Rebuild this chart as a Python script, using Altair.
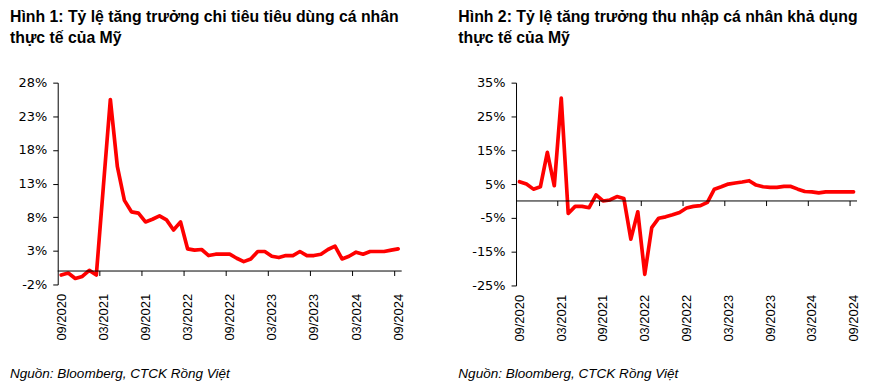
import altair as alt
import pandas as pd

# ---- data ----
months = [
    "09/2020", "10/2020", "11/2020", "12/2020", "01/2021", "02/2021", "03/2021",
    "04/2021", "05/2021", "06/2021", "07/2021", "08/2021", "09/2021", "10/2021",
    "11/2021", "12/2021", "01/2022", "02/2022", "03/2022", "04/2022", "05/2022",
    "06/2022", "07/2022", "08/2022", "09/2022", "10/2022", "11/2022", "12/2022",
    "01/2023", "02/2023", "03/2023", "04/2023", "05/2023", "06/2023", "07/2023",
    "08/2023", "09/2023", "10/2023", "11/2023", "12/2023", "01/2024", "02/2024",
    "03/2024", "04/2024", "05/2024", "06/2024", "07/2024", "08/2024", "09/2024",
]

# Hình 1: real personal consumption expenditure growth (%)
pce_growth = [
    -0.6, -0.3, -1.1, -0.8, 0.1, -0.6, 12.5, 25.5, 15.5, 10.5,
    8.8, 8.6, 7.3, 7.7, 8.2, 7.6, 6.1, 7.3, 3.3, 3.1,
    3.2, 2.3, 2.5, 2.5, 2.5, 1.9, 1.4, 1.8, 2.9, 2.9,
    2.2, 2.0, 2.3, 2.3, 2.9, 2.3, 2.3, 2.5, 3.2, 3.7,
    1.8, 2.2, 2.8, 2.5, 2.9, 2.9, 2.9, 3.1, 3.3,
]

# Hình 2: real disposable personal income growth (%)
income_growth = [
    5.7, 5.0, 3.5, 4.2, 14.4, 4.5, 30.4, -3.7, -1.6, -1.6,
    -2.0, 1.8, 0.0, 0.3, 1.3, 0.7, -11.3, -3.2, -21.7, -7.9,
    -5.1, -4.7, -4.1, -3.4, -2.1, -1.6, -1.4, -0.4, 3.5, 4.2,
    5.0, 5.3, 5.6, 6.0, 4.7, 4.2, 4.0, 4.0, 4.3, 4.3,
    3.5, 2.8, 2.7, 2.4, 2.7, 2.7, 2.7, 2.7, 2.7,
]

title_left = ["Hình 1: Tỷ lệ tăng trưởng chi tiêu tiêu dùng cá nhân", "thực tế của Mỹ"]
title_right = ["Hình 2: Tỷ lệ tăng trưởng thu nhập cá nhân khả dụng", "thực tế của Mỹ"]
source_note = "Nguồn: Bloomberg, CTCK Rồng Việt"

left_yticks = [-2, 3, 8, 13, 18, 23, 28]
right_yticks = [-25, -15, -5, 5, 15, 25, 35]

RED = "#ff0000"
LABEL_FONT = "Liberation Sans"
Y_FONT = "DejaVu Sans"
label_js = "[" + ",".join("'" + m + "'" for m in months) + "]"


def panel(values, yticks, title_lines, w, h, text_dx, tick_len):
    n = len(months)
    df = pd.DataFrame({"i": list(range(n)), "v": values})
    xscale = alt.Scale(domain=[-0.5, n - 0.5], nice=False, zero=False)
    yscale = alt.Scale(domain=[yticks[0], yticks[-1]], nice=False, zero=False)
    xaxis = alt.Axis(
        values=list(range(0, n, 6)),
        labelExpr=label_js + "[datum.value]",
        labelAngle=270,
        ticks=False,
        domain=False,
        grid=False,
        title=None,
        labelFont=LABEL_FONT,
        labelFontSize=13,
        labelColor="#000000",
        labelPadding=9,
        labelOverlap=False,
    )
    yaxis = alt.Axis(
        values=yticks,
        labelExpr="datum.value + '%'",
        grid=False,
        title=None,
        tickSize=5,
        domainColor="#000000",
        tickColor="#000000",
        labelFont=Y_FONT,
        labelFontSize=13,
        labelColor="#000000",
        labelPadding=6,
        labelOverlap=False,
        labelFlush=False,
        tickCount=len(yticks),
    )

    line = alt.Chart(df).mark_line(
        color=RED, strokeWidth=3.7, strokeJoin="round", strokeCap="round"
    ).encode(
        x=alt.X("i:Q", scale=xscale, axis=xaxis),
        y=alt.Y("v:Q", scale=yscale, axis=yaxis),
    )

    zero = alt.Chart(pd.DataFrame({"z": [0]})).mark_rule(
        color="#000000", strokeWidth=1
    ).encode(y=alt.Y("z:Q", scale=yscale, axis=yaxis))

    tick_df = pd.DataFrame({
        "x": [i - 0.5 for i in range(6, n, 6)],
        "y0": [0] * len(range(6, n, 6)),
        "y1": [-tick_len] * len(range(6, n, 6)),
    })
    ticks = alt.Chart(tick_df).mark_rule(color="#000000", strokeWidth=1).encode(
        x=alt.X("x:Q", scale=xscale, axis=xaxis),
        y=alt.Y("y0:Q", scale=yscale, axis=yaxis),
        y2="y1:Q",
    )

    t1 = alt.Chart(pd.DataFrame({"t": [title_lines[0]]})).mark_text(
        align="left", baseline="alphabetic", font=LABEL_FONT, fontSize=15.9,
        fontWeight="bold", color="#000000"
    ).encode(text="t:N", x=alt.value(text_dx), y=alt.value(-61))
    t2 = alt.Chart(pd.DataFrame({"t": [title_lines[1]]})).mark_text(
        align="left", baseline="alphabetic", font=LABEL_FONT, fontSize=15.9,
        fontWeight="bold", color="#000000"
    ).encode(text="t:N", x=alt.value(text_dx), y=alt.value(-40))
    src = alt.Chart(pd.DataFrame({"t": [source_note]})).mark_text(
        align="left", baseline="alphabetic", font=LABEL_FONT, fontSize=13.6,
        fontStyle="italic", color="#000000"
    ).encode(text="t:N", x=alt.value(text_dx), y=alt.value(297))

    return alt.layer(line, zero, ticks, t1, t2, src).properties(width=w, height=h)


left = panel(pce_growth, left_yticks, title_left, 346, 203, -48, 0.74)
right = panel(income_growth, right_yticks, title_right, 343, 204, -58, 1.5)

chart = (
    alt.hconcat(left, right, spacing=115, bounds="flush")
    .properties(
        padding={"left": 2, "top": 0, "right": 0, "bottom": 0},
        background="#ffffff",
    )
    .configure_view(strokeWidth=0)
)

chart.save("out.html", embed_options={"renderer": "svg", "actions": False})
